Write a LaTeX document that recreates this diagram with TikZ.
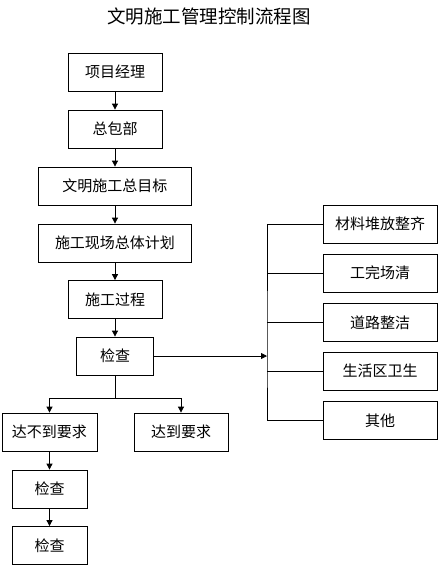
\documentclass[tikz,border=0pt]{standalone}
\usepackage{fontspec}
\setmainfont{Noto Sans CJK SC}
\usetikzlibrary{arrows.meta}
\begin{document}
\begin{tikzpicture}[x=1pt, y=-1pt, line width=0.8pt,
  >={Triangle[width=6pt,length=6pt]},
  box/.style={draw, minimum height=38pt, inner sep=0pt, font=\fontsize{15pt}{17pt}\selectfont}]
  \useasboundingbox (0,0) rectangle (438,566);
  \node[font=\fontsize{18.5pt}{21pt}\selectfont] (title) at (209,16) {文明施工管理控制流程图};

  \node[box, minimum width=94pt] (pm)   at (115,72)    {项目经理};
  \node[box, minimum width=94pt] (gc)   at (115,129)   {总包部};
  \node[box, minimum width=153pt] (goal) at (115,186)  {文明施工总目标};
  \node[box, minimum width=153pt] (plan) at (115,243)  {施工现场总体计划};
  \node[box, minimum width=94pt] (proc) at (115,299.5) {施工过程};
  \node[box, minimum width=77pt] (chk)  at (115,356)   {检查};

  \draw[->] (pm) -- (gc);
  \draw[->] (gc) -- (goal);
  \draw[->] (goal) -- (plan);
  \draw[->] (plan) -- (proc);
  \draw[->] (proc) -- (chk);

  % branch below the check
  \node[box, minimum width=95pt] (fail) at (49.5,432) {达不到要求};
  \node[box, minimum width=94pt] (pass) at (181,432)  {达到要求};
  \node[box, minimum width=75pt] (chka) at (49.5,489) {检查};
  \node[box, minimum width=75pt] (chkb) at (49.5,545.5) {检查};
  \coordinate (split) at (115,398);
  \draw (chk) -- (split);
  \draw[->] (split) -| (fail);
  \draw[->] (split) -| (pass);
  \draw[->] (fail) -- (chka);
  \draw[->] (chka) -- (chkb);

  % right column
  \node[box, minimum width=114pt] (stack) at (380,224)   {材料堆放整齐};
  \node[box, minimum width=114pt] (clean) at (380,273)   {工完场清};
  \node[box, minimum width=114pt] (road)  at (380,322.5) {道路整洁};
  \node[box, minimum width=114pt] (life)  at (380,371)   {生活区卫生};
  \node[box, minimum width=114pt] (other) at (380,420.5) {其他};
  \coordinate (bus) at (267,356);
  \draw[->] (chk) -- (bus);
  \draw (stack.west) -| (bus) |- (other.west);
  \foreach \n in {clean, road, life}
    \draw (\n.west) -- (\n.west -| bus);
\end{tikzpicture}
\end{document}
